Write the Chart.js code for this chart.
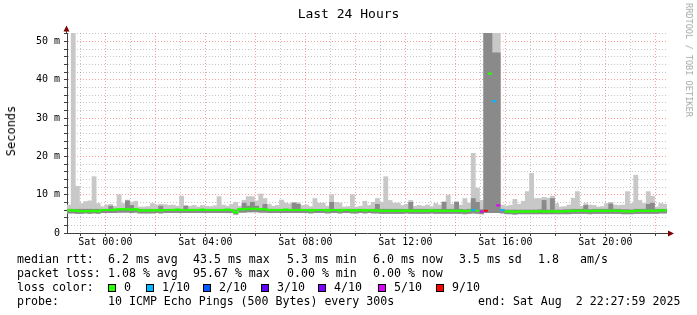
<!DOCTYPE html>
<html>
<head>
<meta charset="utf-8">
<script src="https://cdn.jsdelivr.net/npm/chart.js@4.4.1/dist/chart.umd.min.js"></script>
<style>
  body { margin: 0; background: #fff; }
  #wrap { position: relative; width: 697px; height: 315px; overflow: hidden; font-family: "DejaVu Sans Mono", monospace; color: #000; }
  #wrap canvas { position: absolute; left: 0; top: 0; }
  .t { position: absolute; white-space: pre; font-size: 11.6px; line-height: 14px; }
  .sq { position: absolute; width: 6px; height: 6px; border: 1px solid #000; }
</style>
</head>
<body>
<div id="wrap">
  <canvas id="smoke" width="697" height="315"></canvas>

  <div class="t" style="left:0;width:697px;text-align:center;top:5.5px;font-size:13px;line-height:16px">Last 24 Hours</div>
  <div class="t" style="left:10.5px;top:131px;font-size:12px;transform:translate(-50%,-50%) rotate(-90deg)">Seconds</div>
  <div class="t" style="left:689px;top:60px;font-size:8.6px;color:#a8a8a8;transform:translate(-50%,-50%) rotate(90deg)">RRDTOOL / TOBI OETIKER</div>

  <div class="t" style="left:17px;top:252px">median rtt:</div>
  <div class="t" style="left:108px;top:252px">6.2 ms avg</div>
  <div class="t" style="left:193px;top:252px">43.5 ms max</div>
  <div class="t" style="left:287px;top:252px">5.3 ms min</div>
  <div class="t" style="left:373px;top:252px">6.0 ms now</div>
  <div class="t" style="left:459px;top:252px">3.5 ms sd</div>
  <div class="t" style="left:538px;top:252px">1.8</div>
  <div class="t" style="left:580px;top:252px">am/s</div>

  <div class="t" style="left:17px;top:266px">packet loss:</div>
  <div class="t" style="left:108px;top:266px">1.08 % avg</div>
  <div class="t" style="left:193px;top:266px">95.67 % max</div>
  <div class="t" style="left:287px;top:266px">0.00 % min</div>
  <div class="t" style="left:373px;top:266px">0.00 % now</div>

  <div class="t" style="left:17px;top:280px">loss color:</div>
  <div id="lossLegend"></div>

  <div class="t" style="left:17px;top:294px">probe:</div>
  <div class="t" style="left:108px;top:294px">10 ICMP Echo Pings (500 Bytes) every 300s</div>
  <div class="t" style="left:478px;top:294px">end: Sat Aug  2 22:27:59 2025</div>
</div>

<script>
// 10-minute bins, window ends Sat 22:27:59 (hours relative to Sat 00:00)
const END_HOUR = 22.4664;
const BIN_HOURS = 10 / 60;

// median rtt per bin (ms)
const median = [
  5.9,5.9,5.8,5.7,5.7,5.7,5.8,5.7,6.0,6.0,
  6.0,6.1,6.2,6.2,6.2,6.1,6.2,5.9,5.9,5.9,
  5.9,6.0,5.9,6.0,6.0,6.0,6.1,6.0,6.0,6.0,
  6.0,6.0,6.1,6.0,6.0,6.0,6.0,6.0,6.1,6.0,
  5.4,6.2,6.2,6.3,6.3,6.3,6.2,6.2,6.0,6.0,
  6.0,6.0,6.1,6.0,6.0,6.0,6.0,6.0,5.9,6.0,
  6.0,6.0,5.9,6.0,6.0,5.9,6.0,6.0,5.9,5.9,
  6.0,5.9,6.0,5.9,5.9,5.8,5.8,5.8,5.8,5.8,
  5.8,5.9,5.8,5.8,5.8,5.8,5.8,5.9,5.8,5.8,
  5.8,5.8,5.8,5.8,5.8,5.7,5.8,6.0,5.8,5.6,
  5.8,41.6,34.4,7.2,6.0,5.6,5.6,5.5,5.6,5.6,
  5.6,5.6,5.6,5.7,5.6,5.6,5.7,5.6,5.6,5.7,
  5.7,5.8,5.8,5.8,5.8,5.7,5.8,5.8,5.8,5.8,
  5.8,5.8,5.8,5.7,5.7,5.6,5.8,5.8,5.8,5.8,
  5.8,5.8,5.9,5.9
];

// lost pings out of 10 per bin
const lossCount = [
  0,0,0,0,0,0,0,0,0,0, 0,0,0,0,0,0,0,0,0,0,
  0,0,0,0,0,0,0,0,0,0, 0,0,0,0,0,0,0,0,0,0,
  0,0,0,0,0,0,0,0,0,0, 0,0,0,0,0,0,0,0,0,0,
  0,0,0,0,0,0,0,0,0,0, 0,0,0,0,0,0,0,0,0,0,
  0,0,0,0,0,0,0,0,0,0, 0,0,0,0,0,0,0,1,0,5,
  9,0,1,5,1,0,0,0,0,0, 0,0,0,0,0,0,0,0,0,0,
  0,0,0,0,0,0,0,0,0,0, 0,0,0,0,0,0,0,0,0,0,
  0,0,0,0
];

// smoke: lowest ping, top of dense band, highest ping (ms)
const smokeLo = [
  5.2,5.2,5.1,5.1,5.2,5.1,5.2,5.1,5.3,5.3,
  5.3,5.3,5.4,5.4,5.4,5.3,5.4,5.2,5.2,5.2,
  5.2,5.3,5.2,5.3,5.3,5.3,5.3,5.3,5.3,5.3,
  5.3,5.3,5.3,5.3,5.3,5.3,5.3,5.3,5.3,5.3,
  4.9,5.4,5.4,5.5,5.5,5.5,5.4,5.4,5.3,5.3,
  5.3,5.3,5.3,5.3,5.3,5.3,5.3,5.3,5.2,5.3,
  5.3,5.3,5.2,5.3,5.3,5.2,5.3,5.3,5.2,5.2,
  5.3,5.2,5.3,5.2,5.2,5.1,5.1,5.1,5.1,5.1,
  5.1,5.2,5.1,5.1,5.1,5.1,5.1,5.2,5.1,5.1,
  5.1,5.1,5.1,5.1,5.1,5.0,5.1,5.2,5.1,5.0,
  5.3,5.3,5.3,5.3,5.2,5.0,5.0,4.9,5.0,5.0,
  5.0,5.0,5.0,5.0,5.0,5.0,5.0,5.0,5.0,5.0,
  5.0,5.1,5.1,5.1,5.1,5.0,5.1,5.1,5.1,5.1,
  5.1,5.1,5.1,5.0,5.0,5.0,5.1,5.1,5.1,5.1,
  5.1,5.1,5.2,5.2
];
const smokeMid = [
  6.2,6.2,6.2,6.2,6.2,6.2,6.2,6.2,6.2,6.2,
  7.0,6.2,6.2,6.2,8.4,7.2,6.2,6.2,6.2,6.2,
  6.2,6.2,7.0,6.2,6.2,6.2,6.2,6.2,7.0,6.2,
  6.2,6.2,6.2,6.2,6.2,6.2,6.2,6.2,6.2,6.2,
  6.0,6.3,7.8,7.0,8.0,7.0,6.3,7.5,6.2,6.2,
  6.2,6.2,6.2,6.2,7.8,7.5,6.2,6.2,6.2,6.2,
  6.2,6.2,6.2,8.0,6.2,6.2,6.2,6.2,6.2,6.2,
  6.2,6.2,6.2,6.2,7.5,6.2,6.2,6.2,6.2,6.2,
  6.2,6.2,8.0,6.2,6.2,6.2,6.2,6.2,6.2,6.2,
  8.0,6.2,6.2,8.0,6.2,6.1,6.2,9.0,8.0,6.1,
  52.2,52.2,47.0,47.0,6.2,6.0,6.0,6.0,6.0,6.0,
  6.0,6.0,6.0,6.1,8.5,6.0,9.0,6.0,6.0,6.1,
  6.1,6.2,6.2,6.2,7.2,6.1,6.2,6.2,6.2,6.2,
  7.6,6.2,6.2,6.1,6.1,6.0,6.2,6.2,6.2,7.5,
  7.8,6.2,6.2,6.2
];
const smokeHi = [
  7.3,52.2,12.2,7.7,8.2,8.4,14.7,7.7,6.9,7.3,
  7.5,7.0,10.0,7.7,8.6,8.0,8.3,6.8,6.8,6.9,
  7.7,7.3,7.5,7.4,7.2,7.3,7.0,9.6,7.2,7.0,
  7.2,6.8,7.2,7.0,6.9,7.1,9.5,7.3,7.0,7.5,
  8.0,7.0,8.5,9.5,9.5,8.4,10.2,9.0,7.5,7.0,
  7.2,8.6,7.8,7.6,8.0,7.9,7.2,7.3,6.9,9.0,
  7.8,7.8,7.0,10.0,8.0,7.8,6.8,6.9,10.0,6.8,
  7.0,8.3,7.2,8.0,9.0,8.0,14.7,8.5,7.8,7.8,
  7.2,7.5,8.5,7.0,7.2,7.0,7.3,6.9,7.7,7.3,
  8.2,9.9,7.5,8.2,7.3,9.0,7.8,20.8,11.7,8.5,
  52.2,52.2,52.2,52.2,7.3,7.0,7.2,8.8,7.5,8.3,
  10.8,15.6,9.0,9.0,9.3,9.1,9.6,7.7,6.8,6.9,
  7.3,9.1,10.8,7.0,7.7,7.3,7.2,6.8,6.9,7.7,
  8.0,7.3,7.2,7.3,10.8,7.7,15.1,8.5,7.7,10.8,
  9.6,6.8,7.7,7.5
];

const lossClasses = [0, 1, 2, 3, 4, 5, 9];
const lossLabels = ['0', '1/10', '2/10', '3/10', '4/10', '5/10', '9/10'];
const lossColors = ['#26ff00', '#00b8ff', '#0059ff', '#5e00ff', '#7e00ff', '#dd00ff', '#ff0000'];

const hourTicks = [];
for (let h = -1; h <= 22; h++) hourTicks.push(h);
const msTicks = [];
for (let v = 0; v <= 52; v += 2) msTicks.push(v);

const START_HOUR = END_HOUR - 24;
const binX = i => START_HOUR + (i + 0.5) * BIN_HOURS;

const MAJOR = 'rgba(255,0,0,0.38)';
const MINOR = 'rgba(128,128,128,0.45)';
const AXIS = '#404040';
const ARROW = '#7f0000';

// loss colour legend (boxes + labels)
const legendX = [108, 146, 203, 261, 318, 378, 436];
const legendBox = document.getElementById('lossLegend');
lossClasses.forEach((c, k) => {
  const sq = document.createElement('div');
  sq.className = 'sq';
  sq.style.left = legendX[k] + 'px';
  sq.style.top = '284px';
  sq.style.background = lossColors[k];
  legendBox.appendChild(sq);
  const lb = document.createElement('div');
  lb.className = 't';
  lb.style.left = (legendX[k] + 16) + 'px';
  lb.style.top = '280px';
  lb.textContent = lossLabels[k];
  legendBox.appendChild(lb);
});

const axisArrows = {
  id: 'axisArrows',
  afterDraw(chart) {
    const { ctx, chartArea: a } = chart;
    ctx.save();
    ctx.strokeStyle = AXIS;
    ctx.lineWidth = 1;
    ctx.beginPath();
    ctx.moveTo(a.left - 0.5, a.top);
    ctx.lineTo(a.left - 0.5, a.top - 2);
    ctx.moveTo(a.right, a.bottom + 0.5);
    ctx.lineTo(a.right + 2, a.bottom + 0.5);
    ctx.stroke();
    ctx.fillStyle = ARROW;
    ctx.beginPath();
    ctx.moveTo(a.left - 3.5, a.top - 1.5);
    ctx.lineTo(a.left + 2.5, a.top - 1.5);
    ctx.lineTo(a.left - 0.5, a.top - 7.5);
    ctx.closePath();
    ctx.fill();
    ctx.beginPath();
    ctx.moveTo(a.right + 1, a.bottom - 2.5);
    ctx.lineTo(a.right + 1, a.bottom + 3.5);
    ctx.lineTo(a.right + 7, a.bottom + 0.5);
    ctx.closePath();
    ctx.fill();
    ctx.restore();
  }
};

const datasets = [
  {
    label: 'smoke',
    data: smokeHi.map((h, i) => ({ x: binX(i), y: [smokeLo[i], h] })),
    backgroundColor: '#c8c8c8',
    borderWidth: 0,
    grouped: false,
    barPercentage: 1,
    categoryPercentage: 1,
    order: 3
  },
  {
    label: 'dense',
    data: smokeMid.map((m, i) => ({ x: binX(i), y: [smokeLo[i], m] })),
    backgroundColor: '#8a8a8a',
    borderWidth: 0,
    grouped: false,
    barPercentage: 1,
    categoryPercentage: 1,
    order: 2
  }
];

lossClasses.forEach((c, k) => {
  datasets.push({
    type: 'line',
    label: 'loss ' + lossLabels[k],
    data: median.map((m, i) => ({ x: binX(i), y: lossCount[i] === c ? m : null })),
    borderColor: lossColors[k],
    borderWidth: 2,
    stepped: 'middle',
    spanGaps: false,
    pointStyle: 'line',
    pointRadius: 2.1,
    pointBorderWidth: 2,
    pointBorderColor: lossColors[k],
    order: 0
  });
});

const pad2 = n => String(n).padStart(2, '0');

new Chart(document.getElementById('smoke'), {
  type: 'bar',
  data: { datasets },
  plugins: [axisArrows],
  options: {
    responsive: false,
    animation: false,
    devicePixelRatio: 1,
    layout: { padding: { top: 33, right: 30, left: 0, bottom: 0 } },
    plugins: {
      legend: { display: false },
      tooltip: { enabled: false },
      title: { display: false }
    },
    scales: {
      x: {
        type: 'linear',
        min: START_HOUR,
        max: END_HOUR,
        offset: false,
        afterBuildTicks: s => { s.ticks = hourTicks.map(v => ({ value: v })); },
        afterFit: s => { s.height = 82; },
        grid: {
          offset: false,
          color: c => (c.tick && c.tick.value % 2 === 0 ? MAJOR : MINOR),
          tickColor: AXIS,
          tickLength: 3
        },
        border: { display: true, color: AXIS, width: 1, dash: [1, 2] },
        ticks: {
          autoSkip: false,
          maxRotation: 0,
          padding: 0,
          color: '#000',
          font: { family: 'DejaVu Sans Mono', size: 10 },
          callback: v => (v % 4 === 0 ? 'Sat ' + pad2(v) + ':00' : '')
        }
      },
      y: {
        min: 0,
        max: 52.2,
        afterBuildTicks: s => { s.ticks = msTicks.map(v => ({ value: v })); },
        afterFit: s => { s.width = 67; },
        grid: {
          color: c => (c.tick && c.tick.value % 10 === 0 ? MAJOR : MINOR),
          tickColor: AXIS,
          tickLength: 3
        },
        border: { display: true, color: AXIS, width: 1, dash: [1, 2] },
        ticks: {
          autoSkip: false,
          padding: 4,
          color: '#000',
          font: { family: 'DejaVu Sans Mono', size: 10 },
          callback: v => (v % 10 === 0 ? (v === 0 ? '0' : v + ' m') : '')
        }
      }
    }
  }
});
</script>
</body>
</html>
